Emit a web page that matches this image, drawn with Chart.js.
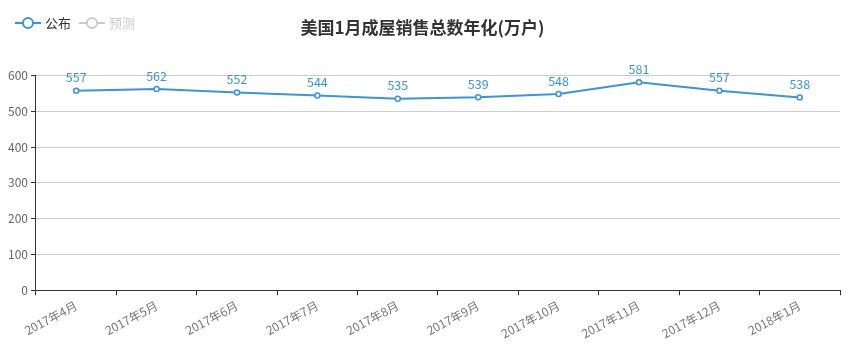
<!DOCTYPE html>
<html>
<head>
<meta charset="utf-8">
<script src="https://cdn.jsdelivr.net/npm/chart.js@4"></script>
<style>
  body { margin: 0; background: #fff; }
</style>
</head>
<body>
<canvas id="myChart" width="858" height="357"></canvas>
<script>
const months = ["2017年4月", "2017年5月", "2017年6月", "2017年7月", "2017年8月", "2017年9月", "2017年10月", "2017年11月", "2017年12月", "2018年1月"];
const published = [557, 562, 552, 544, 535, 539, 548, 581, 557, 538];
const forecast = [];
const yTicks = [0, 100, 200, 300, 400, 500, 600];

const font = "'Noto Sans CJK SC', 'Microsoft YaHei', sans-serif";
const blue = "#3a95dc";

// legend icon: short line with a hollow circle
function legendIcon(color) {
  const c = document.createElement("canvas");
  c.width = 26;
  c.height = 14;
  const g = c.getContext("2d");
  g.strokeStyle = color;
  g.lineWidth = 2;
  g.beginPath();
  g.moveTo(0, 7);
  g.lineTo(26, 7);
  g.stroke();
  g.fillStyle = "#fff";
  g.beginPath();
  g.arc(13, 7, 5, 0, Math.PI * 2);
  g.fill();
  g.stroke();
  return c;
}

const valueLabels = {
  id: "valueLabels",
  afterDatasetsDraw(chart) {
    const c = chart.ctx;
    const meta = chart.getDatasetMeta(0);
    c.save();
    c.font = "12.5px " + font;
    c.fillStyle = blue;
    c.textAlign = "center";
    c.textBaseline = "bottom";
    meta.data.forEach((pt, idx) => {
      c.fillText(published[idx], pt.x, pt.y - 7);
    });
    c.restore();
  }
};

const ctx = document.getElementById("myChart");

new Chart(ctx, {
  type: "line",
  data: {
    labels: months,
    datasets: [
      {
        label: "公布",
        data: published,
        borderColor: blue,
        backgroundColor: "#fff",
        borderWidth: 2,
        pointRadius: 2.5,
        pointBorderWidth: 1.5,
        pointBackgroundColor: "#fff",
        pointBorderColor: blue,
        tension: 0,
      },
      {
        label: "预测",
        data: forecast,
        borderColor: "#ccc",
        hidden: true,
      },
    ],
  },
  options: {
    responsive: false,
    animation: false,
    layout: { padding: { left: 5, right: 18, top: 0, bottom: 13 } },
    plugins: {
      title: {
        display: true,
        text: "美国1月成屋销售总数年化(万户)",
        color: "#333",
        font: { family: font, size: 17, weight: "bold" },
        padding: { top: 17, bottom: 38 },
      },
      legend: { display: false },
      tooltip: { enabled: false },
    },
    scales: {
      x: {
        offset: true,
        grid: {
          display: true,
          drawOnChartArea: false,
          offset: true,
          tickLength: 5,
          color: "#333",
        },
        border: { color: "#333", width: 1 },
        ticks: {
          color: "#777",
          font: { family: font, size: 12 },
          maxRotation: 28,
          minRotation: 28,
          autoSkip: false,
        },
      },
      y: {
        min: 0,
        max: 600,
        afterBuildTicks(axis) {
          axis.ticks = yTicks.map(v => ({ value: v }));
        },
        grid: { color: "#ccc", tickColor: "#333", tickLength: 5 },
        border: { color: "#333", width: 1 },
        ticks: {
          color: "#666",
          font: { family: font, size: 12 },
          padding: 3,
        },
      },
    },
  },
  plugins: [valueLabels, {
    id: "legendDraw",
    afterDraw(chart) {
      const c = chart.ctx;
      c.save();
      c.font = "13px " + font;
      c.textBaseline = "middle";
      c.drawImage(legendIcon(blue), 15, 16);
      c.fillStyle = "#333";
      c.fillText("公布", 45, 23);
      c.drawImage(legendIcon("#ccc"), 79, 16);
      c.fillStyle = "#ccc";
      c.fillText("预测", 109, 23);
      c.restore();
    }
  }],
});
</script>
</body>
</html>
